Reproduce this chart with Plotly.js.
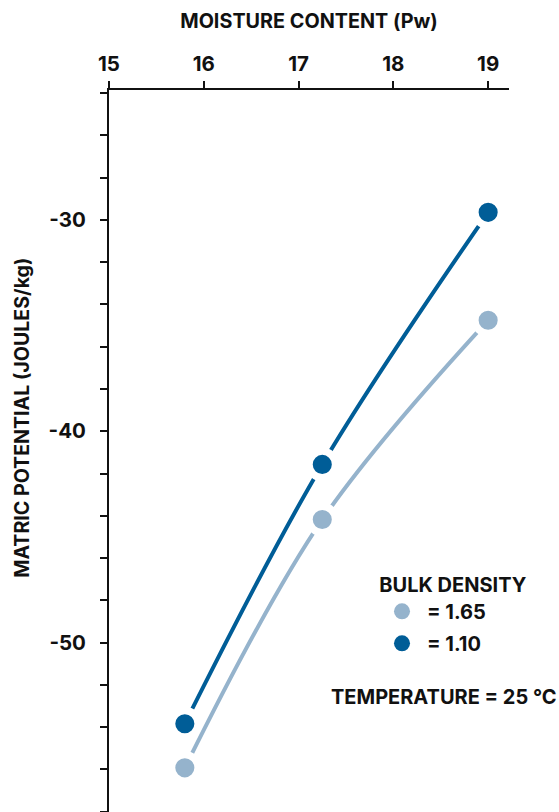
<!DOCTYPE html>
<html>
<head>
<meta charset="utf-8">
<script src="https://cdn.plot.ly/plotly-3.0.1.min.js"></script>
<style>html,body{margin:0;padding:0;background:#fff;}#chart{width:559px;height:812px;}</style>
</head>
<body>
<div id="chart"></div>
<script>
// Data
const moisture = [15.8, 17.25, 19.0];
const potentialBD165 = [-55.93, -44.18, -34.75];
const potentialBD110 = [-53.84, -41.57, -29.64];
const seriesNames = ['= 1.65', '= 1.10'];
const yTickVals = [-58, -56, -54, -52, -50, -48, -46, -44, -42, -40, -38, -36, -34, -32, -30, -28, -26, -24];
const yTickText = ['', '', '', '', '-50', '', '', '', '', '-40', '', '', '', '', '-30', '', '', ''];
const xTickVals = [15, 16, 17, 18, 19];
const xTickText = ['15', '16', '17', '18', '19'];

const LIGHT = '#95b3cc';
const DARK = '#005d97';
const FONT = 'Inter, Roboto, "Liberation Sans", sans-serif';
const INK = '#111111';

function curve(y, color) {
  return {
    x: moisture, y: y, type: 'scatter', mode: 'lines+markers',
    line: {color: color, width: 4, shape: 'spline', smoothing: 1},
    marker: {color: color, size: 26.5, line: {color: '#ffffff', width: 7.4}},
    showlegend: false, hoverinfo: 'skip', cliponaxis: false
  };
}
function legendItem(name, color, group) {
  return {
    x: [null], y: [null], type: 'scatter', mode: 'markers', name: name, legendgroup: group,
    marker: {color: color, size: 18}, showlegend: true
  };
}

const data = [
  curve(potentialBD165, LIGHT),
  curve(potentialBD110, DARK),
  legendItem(seriesNames[0], LIGHT, 'a'),
  legendItem(seriesNames[1], DARK, 'b')
];

const layout = {
  width: 559, height: 812,
  margin: {l: 109, r: 50, t: 90, b: 0, pad: 0},
  paper_bgcolor: '#ffffff', plot_bgcolor: '#ffffff',
  font: {family: FONT, color: INK, size: 20, weight: 'bold'},
  showlegend: true,
  xaxis: {
    side: 'top', range: [15, 19.22], tickmode: 'array', tickvals: xTickVals, ticktext: xTickText,
    ticks: 'outside', ticklen: 7, tickwidth: 2, tickcolor: INK,
    showline: true, linewidth: 2, linecolor: INK, showgrid: false, zeroline: false,
    tickfont: {family: FONT, size: 20.5, weight: 'bold', color: INK},
    ticklabelstandoff: 2,
    title: {text: 'MOISTURE CONTENT (Pw)', font: {family: FONT, size: 19.8, weight: 'bold', color: INK}, standoff: 17}
  },
  yaxis: {
    range: [-58.02, -23.85], tickmode: 'array', tickvals: yTickVals, ticktext: yTickText,
    ticks: 'outside', ticklen: 7, tickwidth: 2, tickcolor: INK,
    showline: true, linewidth: 2, linecolor: INK, showgrid: false, zeroline: false,
    tickfont: {family: FONT, size: 20.5, weight: 'bold', color: INK},
    ticklabelstandoff: 10
  },
  legend: {
    x: 0.67, y: 0.341, xanchor: 'left', yanchor: 'top', bgcolor: 'rgba(0,0,0,0)',
    font: {family: FONT, size: 20, weight: 'bold', color: INK},
    title: {text: 'BULK DENSITY', side: 'top center', font: {family: FONT, size: 20, weight: 'bold', color: INK}},
    traceorder: 'grouped', tracegroupgap: 3, itemwidth: 40
  },
  annotations: [
    {text: 'MATRIC POTENTIAL (JOULES/kg)', xref: 'paper', yref: 'paper', x: -0.2175, y: 0.546,
     textangle: -90, showarrow: false, xanchor: 'center', yanchor: 'middle',
     font: {family: FONT, size: 19.6, weight: 'bold', color: INK}},
    {text: 'TEMPERATURE = 25 °C', xref: 'paper', yref: 'paper', x: 0.8375, y: 0.159,
     showarrow: false, xanchor: 'center', yanchor: 'middle',
     font: {family: FONT, size: 20, weight: 'bold', color: INK}}
  ]
};

Plotly.newPlot('chart', data, layout, {displayModeBar: false, staticPlot: true});
</script>
</body>
</html>
